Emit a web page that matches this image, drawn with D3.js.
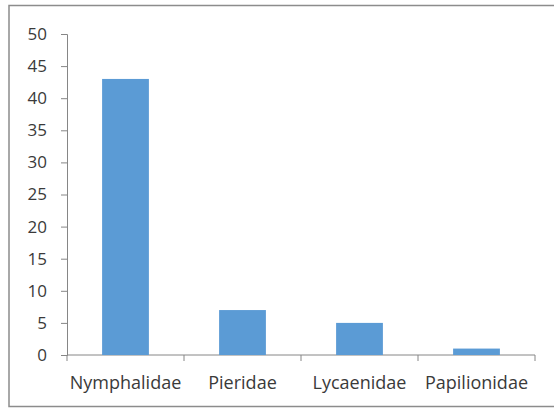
<!DOCTYPE html>
<html>
<head>
<meta charset="utf-8">
<script src="https://cdn.jsdelivr.net/npm/d3@7"></script>
<style>
  body { margin: 0; background: #fff; }
  text { font-family: "Open Sans", sans-serif; fill: #3a3a3a; }
</style>
</head>
<body>
<div class="chart"></div>
<script>
// data
var families = ["Nymphalidae", "Pieridae", "Lycaenidae", "Papilionidae"];
var counts = [43, 7, 5, 1];
var yTicks = [0, 5, 10, 15, 20, 25, 30, 35, 40, 45, 50];

var svgWidth = 554;
var svgHeight = 410;

var svg = d3.select(".chart")
  .append("svg")
  .attr("width", svgWidth)
  .attr("height", svgHeight);

// outer frame
svg.append("rect")
  .attr("x", 9)
  .attr("y", 5.5)
  .attr("width", 560)
  .attr("height", 401)
  .attr("fill", "none")
  .attr("stroke", "#8c8c8c")
  .attr("stroke-width", 1.5);

var plotLeft = 67, plotRight = 535, plotTop = 34, plotBottom = 355;

var x = d3.scaleBand()
  .domain(families)
  .range([plotLeft, plotRight])
  .paddingInner(0.6)
  .paddingOuter(0.3);

var y = d3.scaleLinear()
  .domain([0, 50])
  .range([plotBottom, plotTop]);

var axisColor = "#868686";

// y axis
var yAxis = svg.append("g")
  .attr("transform", `translate(${plotLeft},0)`)
  .call(d3.axisLeft(y).tickValues(yTicks).tickSize(6).tickSizeOuter(6).tickPadding(14));
yAxis.select(".domain").attr("stroke", axisColor);
yAxis.selectAll(".tick line").attr("stroke", axisColor);
yAxis.selectAll("text").style("font-size", "17px").attr("fill", "#3a3a3a").attr("font-family", null);

// x axis: ticks at category boundaries
var step = (plotRight - plotLeft) / families.length;
var xg = svg.append("g");
xg.append("line")
  .attr("x1", plotLeft).attr("x2", plotRight)
  .attr("y1", plotBottom).attr("y2", plotBottom)
  .attr("stroke", axisColor);
xg.selectAll(".xtick")
  .data(d3.range(families.length + 1))
  .enter().append("line")
  .attr("x1", i => plotLeft + i * step)
  .attr("x2", i => plotLeft + i * step)
  .attr("y1", plotBottom)
  .attr("y2", plotBottom + 6)
  .attr("stroke", axisColor);

xg.selectAll(".xlabel")
  .data(families)
  .enter().append("text")
  .attr("x", d => x(d) + x.bandwidth() / 2)
  .attr("y", 389)
  .attr("text-anchor", "middle")
  .style("font-size", "18px")
  .text(d => d);

// bars
svg.selectAll(".bar")
  .data(families)
  .enter().append("rect")
  .attr("x", d => x(d))
  .attr("y", (d, i) => y(counts[i]))
  .attr("width", x.bandwidth())
  .attr("height", (d, i) => plotBottom - y(counts[i]))
  .attr("fill", "#5b9bd5");
</script>
</body>
</html>
